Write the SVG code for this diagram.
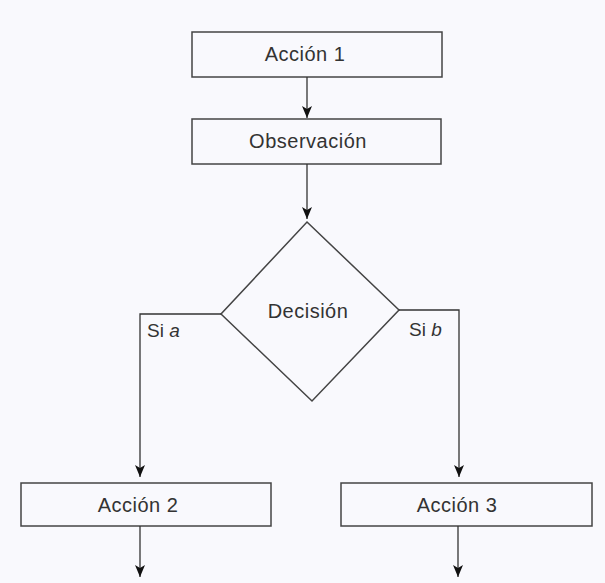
<svg xmlns="http://www.w3.org/2000/svg" width="605" height="583" viewBox="0 0 605 583">
  <style>
    .box { fill: none; stroke: #444; stroke-width: 1.5; }
    .edge { fill: none; stroke: #333; stroke-width: 1.3; }
    .label { font-family: "Liberation Sans", Arial, sans-serif; font-size: 20px; fill: #333; text-anchor: middle; letter-spacing: 0.5px; }
    .cond { font-family: "Liberation Sans", Arial, sans-serif; font-size: 19px; fill: #333; }
  </style>
  <defs>
    <marker id="arrow" viewBox="0 0 12 10" refX="12" refY="5" markerWidth="12" markerHeight="10" markerUnits="userSpaceOnUse" orient="auto">
      <path d="M0,0 L12,5 L0,10 L3,5 Z" fill="#111"/>
    </marker>
  </defs>
  <rect x="0" y="0" width="605" height="583" fill="#f9f9fd"/>

  <g id="accion1">
    <rect class="box" x="192" y="32" width="250" height="45"/>
    <text class="label" x="305" y="61">Acción 1</text>
  </g>

  <g id="observacion">
    <rect class="box" x="192" y="119" width="249" height="45"/>
    <text class="label" x="308" y="148">Observación</text>
  </g>

  <g id="decision">
    <polygon class="box" points="307,222 399,310 312,401 221,314"/>
    <text class="label" x="308" y="318">Decisión</text>
  </g>

  <g id="accion2">
    <rect class="box" x="21" y="483" width="250" height="43"/>
    <text class="label" x="138" y="512">Acción 2</text>
  </g>

  <g id="accion3">
    <rect class="box" x="341" y="483" width="251" height="43"/>
    <text class="label" x="457" y="512">Acción 3</text>
  </g>

  <g id="connectors">
    <line class="edge" x1="307" y1="77" x2="307" y2="118" marker-end="url(#arrow)"/>
    <line class="edge" x1="307" y1="164" x2="307" y2="219" marker-end="url(#arrow)"/>
    <polyline class="edge" points="221,314 140,314 140,477" marker-end="url(#arrow)"/>
    <polyline class="edge" points="399,310 459,310 459,477" marker-end="url(#arrow)"/>
    <line class="edge" x1="140" y1="526" x2="140" y2="577" marker-end="url(#arrow)"/>
    <line class="edge" x1="458" y1="526" x2="458" y2="577" marker-end="url(#arrow)"/>
    <text class="cond" x="147" y="337">Si <tspan font-style="italic">a</tspan></text>
    <text class="cond" x="409" y="336">Si <tspan font-style="italic">b</tspan></text>
  </g>
</svg>
